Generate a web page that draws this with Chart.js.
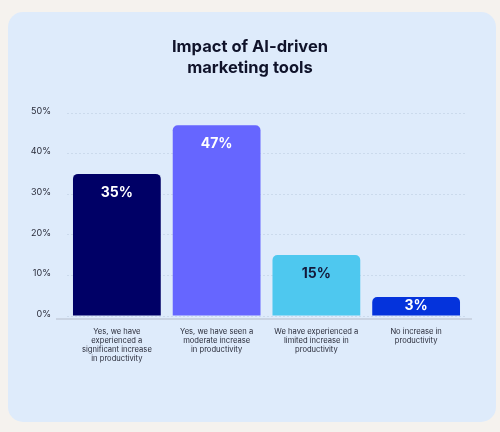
<!DOCTYPE html>
<html>
<head>
<meta charset="utf-8">
<script src="https://cdn.jsdelivr.net/npm/chart.js@4.4.0/dist/chart.umd.min.js"></script>
<style>
  html, body { margin: 0; padding: 0; background: #f5f2ee; }
  body { width: 500px; height: 432px; position: relative; overflow: hidden; }
  .card {
    position: absolute; left: 8px; top: 12px; width: 488px; height: 410px;
    background: #deebfb; border-radius: 15px; overflow: hidden;
  }
  .title {
    position: absolute; left: 0; top: 36px; width: 500px; text-align: center;
    font: bold 16.5px/21px Inter, sans-serif; color: #10132a;
  }
  canvas { display: block; }
</style>
</head>
<body>
<div class="card"><canvas id="chart" width="488" height="410"></canvas></div>
<div class="title" id="title"></div>
<script>
// chart data
const titleLines = ['Impact of AI-driven', 'marketing tools'];
const categories = [
  ['Yes, we have', 'experienced a', 'significant increase', 'in productivity'],
  ['Yes, we have seen a', 'moderate increase', 'in productivity'],
  ['We have experienced a', 'limited increase in', 'productivity'],
  ['No increase in', 'productivity']
];
const values = [35, 47, 15, 3];
const yMax = 50;
const yStep = 10;

// styling
const barColors = ['#000066', '#6666ff', '#4ec8ef', '#0433dc'];
const labelColors = ['#ffffff', '#ffffff', '#14193a', '#ffffff'];

document.getElementById('title').innerHTML = titleLines.join('<br>');

// draws the value labels inside the top of each bar
const valueLabels = {
  id: 'valueLabels',
  afterDatasetsDraw(chart) {
    const ctx = chart.ctx;
    const meta = chart.getDatasetMeta(0);
    ctx.save();
    ctx.font = 'bold 14px Inter';
    ctx.textAlign = 'center';
    ctx.textBaseline = 'middle';
    meta.data.forEach((bar, i) => {
      const h = bar.base - bar.y;
      const y = h < 36 ? bar.y + h / 2 : bar.y + 19;
      ctx.fillStyle = labelColors[i];
      ctx.fillText(values[i] + '%', bar.x, y);
    });
    ctx.restore();
  }
};

// baseline a little below the bars
const baseLine = {
  id: 'baseLine',
  afterDraw(chart) {
    const { ctx, chartArea } = chart;
    ctx.save();
    ctx.strokeStyle = '#c3cddb';
    ctx.lineWidth = 1.5;
    ctx.beginPath();
    ctx.moveTo(chartArea.left - 11, chartArea.bottom + 3);
    ctx.lineTo(chartArea.right + 6, chartArea.bottom + 3);
    ctx.stroke();
    ctx.restore();
  }
};

new Chart(document.getElementById('chart'), {
  type: 'bar',
  data: {
    labels: categories,
    datasets: [{
      data: values,
      backgroundColor: barColors,
      borderRadius: { topLeft: 5, topRight: 5 },
      borderSkipped: 'bottom',
      barPercentage: 0.88,
      categoryPercentage: 1,
      minBarLength: 19
    }]
  },
  options: {
    responsive: false,
    animation: false,
    layout: { padding: { top: 101, right: 30, bottom: 0, left: 0 } },
    plugins: {
      legend: { display: false },
      tooltip: { enabled: false },
      title: { display: false }
    },
    scales: {
      x: {
        grid: { display: false, drawTicks: false },
        border: { display: false },
        ticks: {
          color: '#2a2c3a',
          font: { family: 'Inter', size: 7.6, lineHeight: 1.16 },
          padding: 11.5,
          maxRotation: 0,
          autoSkip: false
        },
        afterFit(scale) { scale.height = 106; }
      },
      y: {
        min: 0,
        max: yMax,
        grid: {
          color: 'rgba(170,185,210,0.35)',
          drawTicks: false
        },
        border: { display: false, dash: [2, 2] },
        ticks: {
          stepSize: yStep,
          color: '#2a2c3a',
          font: { family: 'Inter', size: 9 },
          padding: 16,
          labelOffset: -2,
          callback: v => v + '%'
        },
        afterFit(scale) { scale.width = 59; }
      }
    }
  },
  plugins: [valueLabels, baseLine]
});
</script>
</body>
</html>
